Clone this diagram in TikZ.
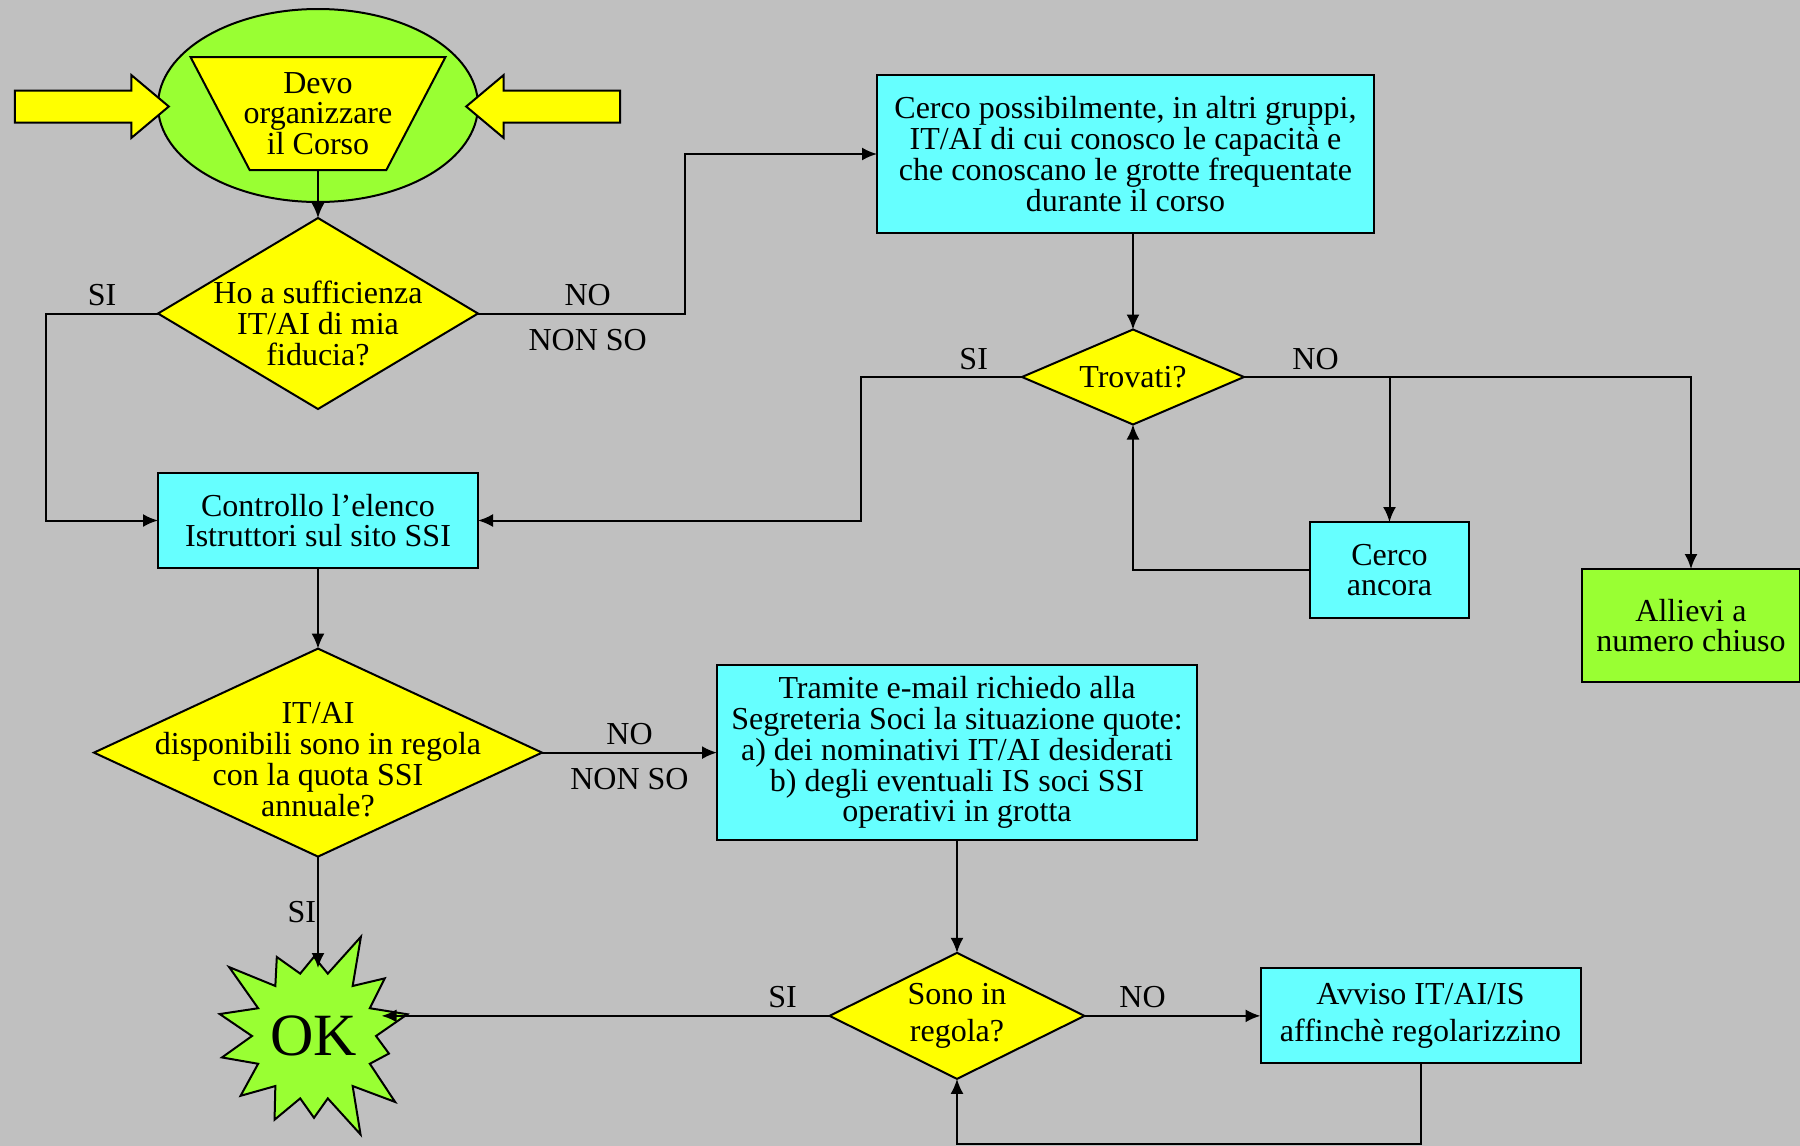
\documentclass[tikz,border=0pt]{standalone}
\usepackage{fontspec}
\setmainfont{Liberation Serif}
\usepackage{tikz}
\usetikzlibrary{positioning,shapes,arrows.meta,graphs,quotes}

\definecolor{bggray}{HTML}{C0C0C0}
\definecolor{boxcyan}{HTML}{66FFFF}
\definecolor{boxyellow}{HTML}{FFFF00}
\definecolor{boxgreen}{HTML}{99FF33}
\newcommand{\flowfont}{\fontsize{16}{15.4}\selectfont}

\begin{document}
\begin{tikzpicture}[x=1pt, y=1pt, >={Latex[length=7.5pt,width=6.5pt]}, line width=1pt, font=\flowfont,
    box/.style = {draw, fill=boxcyan, align=center, inner sep=2pt, outer sep=0pt},
    decision/.style = {draw, diamond, fill=boxyellow, inner sep=0pt, outer sep=0pt},
    inside/.style = {align=center, inner sep=0pt},
    fatarrow/.style = {draw, single arrow, anchor=tail, fill=boxyellow, minimum height=77pt, inner sep=0pt, inner ysep=7.5pt, single arrow head extend=7.75pt, single arrow tip angle=80}]
\fill[bggray] (0,0) rectangle (900,-573);
\useasboundingbox (0,0) rectangle (900,-573);

\node[draw, ellipse, fill=boxgreen, minimum width=160pt, minimum height=96.5pt] (oval) at (159,-52.75) {};
\node[fatarrow]                              (in left)  at (6.9,-53.25)   {};
\node[fatarrow, shape border rotate=180]     (in right) at (310.6,-53.25) {};
\node[draw, trapezium, trapezium stretches=true, shape border rotate=180, trapezium angle=66.6, fill=boxyellow, outer sep=0pt, minimum width=127.5pt, minimum height=56.5pt, label={[inside]center:Devo\\organizzare\\il Corso}] (start) at (159,-56.75) {};
\node[decision, below=24pt of start, minimum width=160pt, minimum height=95.5pt, label={[inside, yshift=-5pt]center:Ho a sufficienza\\IT/AI di mia\\fiducia?}] (trust) {};
\node[box, below=32pt of trust, minimum width=160pt, minimum height=47.5pt] (check) {Controllo l’elenco\\Istruttori sul sito SSI};
\node[decision, below=40.3pt of check, minimum width=224pt, minimum height=104pt, label={[inside, yshift=-3.5pt]center:IT/AI\\disponibili sono in regola\\con la quota SSI\\annuale?}] (quota) {};
\node[draw, starburst, starburst points=14, starburst point height=24pt, random starburst=3, fill=boxgreen, minimum width=110pt, minimum height=112pt, inner sep=0pt, font=\fontsize{30}{30}\selectfont] (ok) at (157,-518) {OK};
\node[box, right=87.5pt of quota, minimum width=240pt, minimum height=87.75pt] (mail) {Tramite e-mail richiedo alla\\Segreteria Soci la situazione quote:\\a) dei nominativi IT/AI desiderati\\b) degli eventuali IS soci SSI\\operativi in grotta};
\node[decision, below=56.25pt of mail, minimum width=127.5pt, minimum height=63pt, label={[inside]center:Sono in\\[3.5pt]regola?}] (regular) {};
\node[box, right=88pt of regular, minimum width=160pt, minimum height=47.5pt] (warn) {Avviso IT/AI/IS\\[3.5pt]affinchè regolarizzino};
\node[decision, minimum width=111pt, minimum height=47.5pt, label={[inside]center:Trovati?}] (found) at (566.5,-188.5) {};
\node[box, above=48.25pt of found, xshift=-3.75pt, minimum width=248.5pt, minimum height=79pt] (search) {Cerco possibilmente, in altri gruppi,\\IT/AI di cui conosco le capacità e\\che conoscano le grotte frequentate\\durante il corso};
\node[box, minimum width=79.5pt, minimum height=48pt] (again) at (694.75,-285) {Cerco\\ancora};
\node[box, fill=boxgreen, minimum width=109pt, minimum height=56.5pt] (closed) at (845.5,-312.75) {Allievi a\\numero chiuso};
\coordinate[left=56pt of trust]      (si bend);
\coordinate[right=103.5pt of trust]  (no bend);
\coordinate[left=80.5pt of found]    (found bend);
\coordinate (loop)     at (warn |- 0,-571.8);
\coordinate (ok top)   at ([yshift=34pt]ok.center -| quota);
\coordinate (ok right) at (regular -| 190.8,0);

\graph{
	(start) -> (trust);
	(check) -> (quota) ->["NO" above, "NON SO" below=4pt] (mail) -> (regular);
};
\draw[->] (search.south -| found) -- (found);
\draw[->] (trust) -- node[above] {SI} (si bend) |- (check);
\draw[->] (trust) -- node[above, pos=0.53] {NO} node[below=4pt, pos=0.53] {NON SO} (no bend) |- (search);
\draw[->] (found) -- node[above, pos=0.3] {SI} (found bend) |- (check);
\draw[->] (found) -- node[above, pos=0.16] {NO} (found -| closed) -- (closed);
\draw[->] (found -| again) -- (again);
\draw[->] (again) -| (found);
\draw[->] (quota) -- node[left, inner sep=0.5pt] {SI} (ok top);
\draw[->] (regular) -- node[above, pos=0.105] {SI} (ok right);
\draw[->] (regular) -- node[above, pos=0.33] {NO} (warn);
\draw[->] (warn) -- (loop) -| (regular);
\end{tikzpicture}
\end{document}
